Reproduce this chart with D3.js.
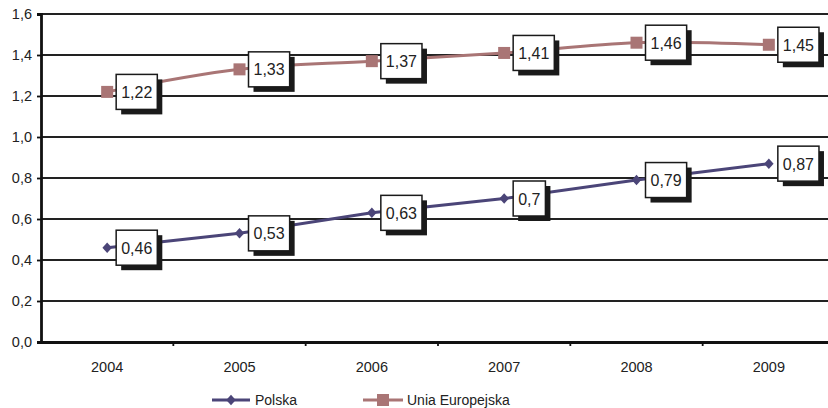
<!DOCTYPE html>
<html>
<head>
<meta charset="utf-8">
<script src="https://cdn.jsdelivr.net/npm/d3@7"></script>
<style>
  html, body { margin: 0; padding: 0; background: #fff; }
  svg { display: block; }
  text { font-family: "Liberation Sans", Arial, sans-serif; fill: #222; }
</style>
</head>
<body>
<svg id="chart" width="828" height="408"></svg>
<script>
// Data
const years = ["2004", "2005", "2006", "2007", "2008", "2009"];
const polska = [0.46, 0.53, 0.63, 0.70, 0.79, 0.87];
const unia = [1.22, 1.33, 1.37, 1.41, 1.46, 1.45];
const yTicks = [0, 0.2, 0.4, 0.6, 0.8, 1.0, 1.2, 1.4, 1.6];
const seriesNames = ["Polska", "Unia Europejska"];

const fmt = v => d3.format(".1f")(v).replace(".", ",");
const fmtLabel = v => String(v).replace(".", ",");

const svg = d3.select("#chart");
const plotLeft = 41, plotTop = 14, plotBottom = 342, plotRight = 835;

const x = d3.scaleBand().domain(years).range([plotLeft, plotRight]);
const y = d3.scaleLinear().domain([0, 1.6]).range([plotBottom, plotTop]);
const cx = d => x(d) + x.bandwidth() / 2;

// Horizontal gridlines
svg.append("g")
  .selectAll("line")
  .data(yTicks.slice(1))
  .join("line")
  .attr("x1", plotLeft).attr("x2", 828)
  .attr("y1", d => y(d)).attr("y2", d => y(d))
  .attr("stroke", "#222").attr("stroke-width", 1.8);

// Y axis
const yAxis = svg.append("g")
  .attr("transform", `translate(${plotLeft},0)`)
  .call(d3.axisLeft(y).tickValues(yTicks).tickFormat(fmt).tickSize(4).tickPadding(5));
yAxis.select(".domain").attr("stroke", "#111").attr("stroke-width", 2.8);
yAxis.selectAll(".tick line").attr("stroke", "#111").attr("stroke-width", 1.8);
yAxis.selectAll(".tick text").attr("font-size", 14.5).attr("fill", "#333")
  .attr("font-family", "Liberation Sans, Arial, sans-serif");

// X axis
const xAxis = svg.append("g")
  .attr("transform", `translate(0,${plotBottom})`)
  .call(d3.axisBottom(x).tickSize(0).tickPadding(20));
xAxis.select(".domain").attr("stroke", "#111").attr("stroke-width", 2.8);
xAxis.selectAll(".tick text").attr("font-size", 14.5).attr("fill", "#333")
  .attr("font-family", "Liberation Sans, Arial, sans-serif");
// category separator ticks
svg.append("g")
  .selectAll("line")
  .data(years.slice(1))
  .join("line")
  .attr("x1", d => x(d)).attr("x2", d => x(d))
  .attr("y1", plotBottom).attr("y2", plotBottom + 4)
  .attr("stroke", "#111").attr("stroke-width", 1.8);

const colPL = "#4b4578";
const colEU = "#a97575";

// Lines
const lineLinear = d3.line().x((d, i) => cx(years[i])).y(d => y(d));
const lineSmooth = d3.line().x((d, i) => cx(years[i])).y(d => y(d)).curve(d3.curveCatmullRom.alpha(0.5));

svg.append("path").datum(unia).attr("d", lineSmooth)
  .attr("fill", "none").attr("stroke", colEU).attr("stroke-width", 3);
svg.append("path").datum(polska).attr("d", lineLinear)
  .attr("fill", "none").attr("stroke", colPL).attr("stroke-width", 3);

// Markers
svg.append("g").selectAll("rect")
  .data(unia).join("rect")
  .attr("x", (d, i) => cx(years[i]) - 6).attr("y", d => y(d) - 6)
  .attr("width", 12).attr("height", 12).attr("fill", colEU);

const diamond = d3.symbol().type(d3.symbolDiamond).size(50);
svg.append("g").selectAll("path")
  .data(polska).join("path")
  .attr("transform", (d, i) => `translate(${cx(years[i])},${y(d)}) scale(1.25,0.8)`)
  .attr("d", diamond).attr("fill", colPL);

// Value label boxes with drop shadow
function labels(values) {
  const g = svg.append("g");
  values.forEach((v, i) => {
    const px = cx(years[i]) + 9;
    const py = y(v);
    const t = fmtLabel(v);
    const lg = g.append("g");
    const shadow = lg.append("rect");
    const box = lg.append("rect");
    const txt = lg.append("text")
      .attr("x", px + 5).attr("y", py + 6)
      .attr("font-size", 16).attr("fill", "#222").text(t);
    const w = txt.node().getComputedTextLength() + 10;
    const h = 35;
    shadow.attr("x", px + 5).attr("y", py - h / 2 + 5).attr("width", w).attr("height", h).attr("fill", "#1a1a1a");
    box.attr("x", px).attr("y", py - h / 2).attr("width", w).attr("height", h)
      .attr("fill", "#fff").attr("stroke", "#1a1a1a").attr("stroke-width", 1.5);
  });
}
labels(unia);
labels(polska);

// Legend
const legend = svg.append("g");
const ly = 400;
legend.append("line").attr("x1", 212).attr("x2", 250).attr("y1", ly).attr("y2", ly)
  .attr("stroke", colPL).attr("stroke-width", 3);
legend.append("path").attr("d", diamond)
  .attr("transform", `translate(231,${ly}) scale(1.25,0.8)`).attr("fill", colPL);
legend.append("text").attr("x", 255).attr("y", ly + 4.5).attr("font-size", 14).attr("fill", "#333").text(seriesNames[0]);

legend.append("line").attr("x1", 363).attr("x2", 403).attr("y1", ly).attr("y2", ly)
  .attr("stroke", colEU).attr("stroke-width", 3);
legend.append("rect").attr("x", 377).attr("y", ly - 6).attr("width", 12).attr("height", 12).attr("fill", colEU);
legend.append("text").attr("x", 407).attr("y", ly + 4.5).attr("font-size", 14).attr("fill", "#333").text(seriesNames[1]);
</script>
</body>
</html>
